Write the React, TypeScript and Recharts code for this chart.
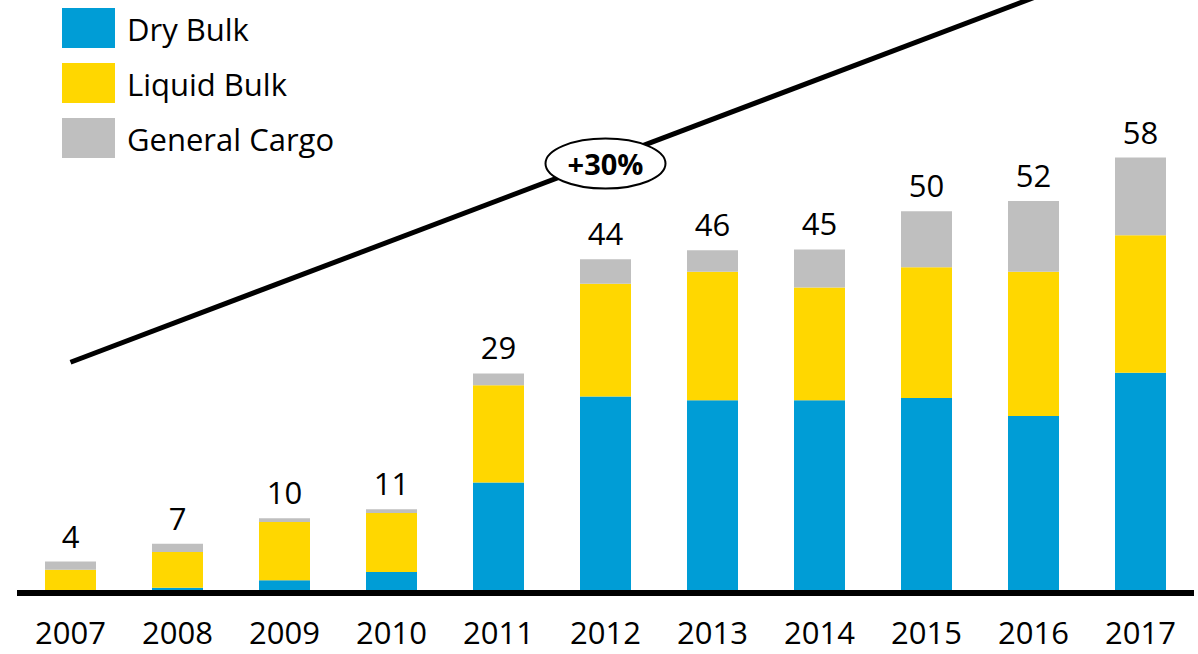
import { BarChart, Bar, XAxis, YAxis, Legend, LabelList, ReferenceLine, ReferenceDot } from 'recharts';

const YEARS = ['2007', '2008', '2009', '2010', '2011', '2012', '2013', '2014', '2015', '2016', '2017'];
const DRY_BULK = [0, 0.3, 1.3, 2.4, 14.4, 25.9, 25.4, 25.4, 25.7, 23.3, 29.1];
const LIQUID_BULK = [2.7, 4.8, 7.8, 7.9, 13, 15.1, 17.2, 15.1, 17.5, 19.3, 18.4];
const GENERAL_CARGO = [1.1, 1.1, 0.5, 0.5, 1.6, 3.3, 2.9, 5.1, 7.5, 9.5, 10.4];
const TOTALS = [4, 7, 10, 11, 29, 44, 46, 45, 50, 52, 58];

// trend arrow drawn from first year up through the chart
const TREND_START = { x: '2007', y: 30.5 };
const TREND_END = { x: '2016', y: 79.3 };
const TREND_LABEL = { x: '2012', y: 57.1, text: '+30%' };

const COLORS = { dry: '#009DD6', liquid: '#FFD700', general: '#BFBFBF' };
const FONT = '"Open Sans", sans-serif';

const chartData = YEARS.map((year, i) => ({
  year,
  dry: DRY_BULK[i],
  liquid: LIQUID_BULK[i],
  general: GENERAL_CARGO[i],
  total: TOTALS[i],
}));

const legendItems = [
  { label: 'Dry Bulk', color: COLORS.dry },
  { label: 'Liquid Bulk', color: COLORS.liquid },
  { label: 'General Cargo', color: COLORS.general },
];

function LegendBox() {
  return (
    <div style={{ fontFamily: FONT, fontSize: 31, color: '#000' }}>
      {legendItems.map(item => (
        <div key={item.label} style={{ display: 'flex', alignItems: 'center', height: 55 }}>
          <div style={{ width: 53, height: 40, background: item.color, marginLeft: 62, marginRight: 12 }} />
          <span style={{ lineHeight: '40px', marginTop: 2 }}>{item.label}</span>
        </div>
      ))}
    </div>
  );
}

function TrendBadge(props: any) {
  const { cx, cy } = props;
  return (
    <g>
      <ellipse cx={cx} cy={cy} rx={60} ry={25} fill="#fff" stroke="#000" strokeWidth={2} />
      <text
        x={cx}
        y={cy}
        textAnchor="middle"
        dominantBaseline="central"
        fontFamily={FONT}
        fontWeight={700}
        fontSize={29}
        fill="#000"
      >
        {TREND_LABEL.text}
      </text>
    </g>
  );
}

export default function App() {
  return (
    <div style={{ position: 'absolute', top: 0, left: 0, width: 1198, height: 654, background: '#fff' }}>
      <BarChart
        width={1198}
        height={654}
        data={chartData}
        margin={{ top: 0, right: 4, left: 17, bottom: 0 }}
        barSize={51}
        style={{ overflow: 'visible' }}
      >
        <XAxis
          dataKey="year"
          height={64}
          tickLine={false}
          tickSize={0}
          tickMargin={32}
          axisLine={{ stroke: '#000', strokeWidth: 6, transform: 'translate(0,3)' }}
          tick={{ fill: '#000', fontSize: 31, fontFamily: FONT }}
          interval={0}
        />
        <YAxis hide domain={[0, 79]} allowDataOverflow />
        <Legend
          layout="horizontal"
          verticalAlign="middle"
          align="center"
          wrapperStyle={{ top: 0, left: 0, width: 400 }}
          content={() => <LegendBox />}
        />
        <Bar dataKey="dry" stackId="a" fill={COLORS.dry} isAnimationActive={false} />
        <Bar dataKey="liquid" stackId="a" fill={COLORS.liquid} isAnimationActive={false} />
        <Bar dataKey="general" stackId="a" fill={COLORS.general} isAnimationActive={false}>
          <LabelList
            dataKey="total"
            position="top"
            offset={14}
            fill="#000"
            fontSize={31}
            fontFamily={FONT}
          />
        </Bar>
        <ReferenceLine
          segment={[TREND_START, TREND_END]}
          stroke="#000"
          strokeWidth={5}
          ifOverflow="visible"
        />
        <ReferenceDot
          x={TREND_LABEL.x}
          y={TREND_LABEL.y}
          ifOverflow="visible"
          shape={(p: any) => <TrendBadge {...p} />}
        />
      </BarChart>
    </div>
  );
}
